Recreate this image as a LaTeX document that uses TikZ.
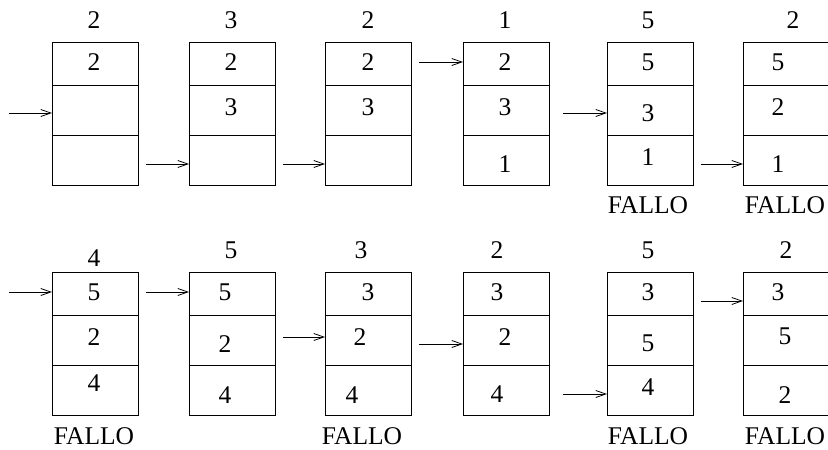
\documentclass[tikz,border=0pt]{standalone}
\usepackage{fontspec}
\setmainfont{Liberation Serif}
\usetikzlibrary{positioning, arrows.meta}

\begin{document}
\begin{tikzpicture}[x=1pt,y=-1pt,>={Straight Barb[length=10pt,width=7pt]},line width=0.8pt,node distance=0pt,
    every node/.style={font=\fontsize{25.5}{30}\selectfont,inner sep=0pt},
    cell/.style={draw,rectangle,minimum width=86pt,minimum height=50pt,outer sep=0pt},
    topcell/.style={cell,minimum height=43pt}]
                \useasboundingbox (0,0) rectangle (828,450);
                % upper row of frames
                \node[topcell] (t1a) at (95,63.5) {};
                \node[cell]    (t1b) [below=of t1a] {};
                \node[cell]    (t1c) [below=of t1b] {};
                \node[topcell] (t2a) at (232,63.5) {};
                \node[cell]    (t2b) [below=of t2a] {};
                \node[cell]    (t2c) [below=of t2b] {};
                \node[topcell] (t3a) at (368,63.5) {};
                \node[cell]    (t3b) [below=of t3a] {};
                \node[cell]    (t3c) [below=of t3b] {};
                \node[topcell] (t4a) at (506,63.5) {};
                \node[cell]    (t4b) [below=of t4a] {};
                \node[cell]    (t4c) [below=of t4b] {};
                \node[topcell] (t5a) at (650,63.5) {};
                \node[cell]    (t5b) [below=of t5a] {};
                \node[cell]    (t5c) [below=of t5b] {};
                \node[topcell] (t6a) at (786,63.5) {};
                \node[cell]    (t6b) [below=of t6a] {};
                \node[cell]    (t6c) [below=of t6b] {};

                % lower row of frames
                \node[topcell] (b1a) at (95,293.5) {};
                \node[cell]    (b1b) [below=of b1a] {};
                \node[cell]    (b1c) [below=of b1b] {};
                \node[topcell] (b2a) at (232,293.5) {};
                \node[cell]    (b2b) [below=of b2a] {};
                \node[cell]    (b2c) [below=of b2b] {};
                \node[topcell] (b3a) at (368,293.5) {};
                \node[cell]    (b3b) [below=of b3a] {};
                \node[cell]    (b3c) [below=of b3b] {};
                \node[topcell] (b4a) at (506,293.5) {};
                \node[cell]    (b4b) [below=of b4a] {};
                \node[cell]    (b4c) [below=of b4b] {};
                \node[topcell] (b5a) at (650,293.5) {};
                \node[cell]    (b5b) [below=of b5a] {};
                \node[cell]    (b5c) [below=of b5b] {};
                \node[topcell] (b6a) at (786,293.5) {};
                \node[cell]    (b6b) [below=of b6a] {};
                \node[cell]    (b6c) [below=of b6b] {};

                % references
                \node (q1) at (94,20) {2};
                \node (q2) at (231,20) {3};
                \node (q3) at (368,20) {2};
                \node (q4) at (505,20) {1};
                \node (q5) at (648,20) {5};
                \node (q6) at (793,20) {2};
                \node (p1) at (94,258) {4};
                \node (p2) at (231,250) {5};
                \node (p3) at (361,250) {3};
                \node (p4) at (497,250) {2};
                \node (p5) at (648,250) {5};
                \node (p6) at (786,250) {2};

                % pages in the frames
                \node (n1a) at (94,62) {2};
                \node (n2a) at (231,62) {2};
                \node (n2b) at (231,107) {3};
                \node (n3a) at (368,62) {2};
                \node (n3b) at (368,107) {3};
                \node (n4a) at (505,62) {2};
                \node (n4b) at (505,107) {3};
                \node (n4c) at (505,164) {1};
                \node (n5a) at (648,62) {5};
                \node (n5b) at (648,113) {3};
                \node (n5c) at (648,157) {1};
                \node (n6a) at (778,62) {5};
                \node (n6b) at (778,107) {2};
                \node (n6c) at (778,164) {1};
                \node (m1a) at (94,292) {5};
                \node (m1b) at (94,337) {2};
                \node (m1c) at (94,383) {4};
                \node (m2a) at (225,292) {5};
                \node (m2b) at (225,344) {2};
                \node (m2c) at (225,395) {4};
                \node (m3a) at (368,292) {3};
                \node (m3b) at (360,337) {2};
                \node (m3c) at (352,395) {4};
                \node (m4a) at (497,292) {3};
                \node (m4b) at (505,337) {2};
                \node (m4c) at (497,394) {4};
                \node (m5a) at (648,292) {3};
                \node (m5b) at (648,343) {5};
                \node (m5c) at (648,387) {4};
                \node (m6a) at (778,292) {3};
                \node (m6b) at (785,336) {5};
                \node (m6c) at (785,395) {2};

                % faults
                \node (f5) at (648,205.5) {FALLO};
                \node (f6) at (785,205.5) {FALLO};
                \node (g1) at (94,436) {FALLO};
                \node (g3) at (362,436) {FALLO};
                \node (g5) at (648,436) {FALLO};
                \node (g6) at (785,436) {FALLO};

                % pointers
                \coordinate (s1) at (9,113);
                \coordinate (s2) at (146,164);
                \coordinate (s3) at (283,164);
                \coordinate (s4) at (419,62);
                \coordinate (s5) at (563,113);
                \coordinate (s6) at (701,164);
                \coordinate (r1) at (9,292);
                \coordinate (r2) at (146,292);
                \coordinate (r3) at (283,337);
                \coordinate (r4) at (419,344);
                \coordinate (r5) at (563,394);
                \coordinate (r6) at (701,301);

                \draw[->] (s1) -- (s1 -| t1b.west);
                \draw[->] (s2) -- (s2 -| t2c.west);
                \draw[->] (s3) -- (s3 -| t3c.west);
                \draw[->] (s4) -- (s4 -| t4a.west);
                \draw[->] (s5) -- (s5 -| t5b.west);
                \draw[->] (s6) -- (s6 -| t6c.west);
                \draw[->] (r1) -- (r1 -| b1a.west);
                \draw[->] (r2) -- (r2 -| b2a.west);
                \draw[->] (r3) -- (r3 -| b3b.west);
                \draw[->] (r4) -- (r4 -| b4b.west);
                \draw[->] (r5) -- (r5 -| b5c.west);
                \draw[->] (r6) -- (r6 -| b6a.west);
\end{tikzpicture}
\end{document}
